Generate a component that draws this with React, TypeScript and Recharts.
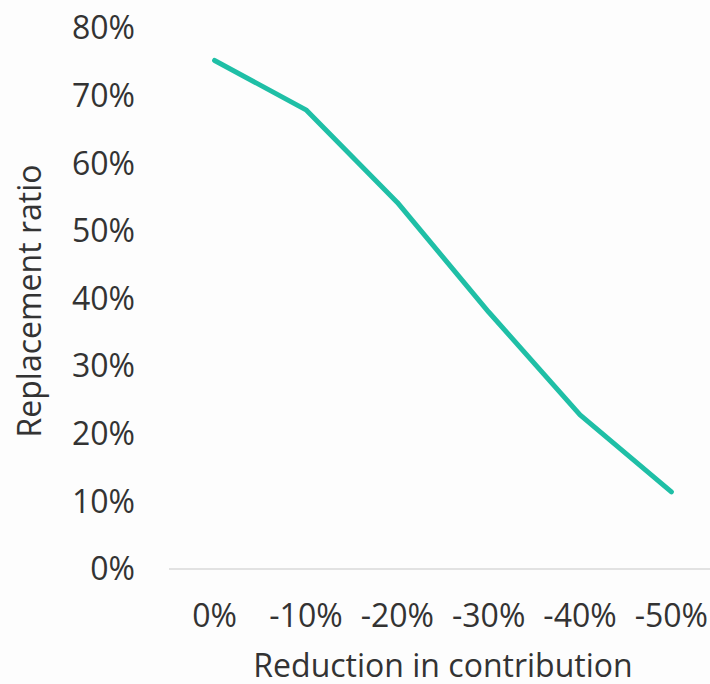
import { LineChart, Line, XAxis, YAxis, Label } from 'recharts';

const categories = ['0%', '-10%', '-20%', '-30%', '-40%', '-50%'];
const replacementRatio = [75.2, 67.9, 54.2, 38.0, 22.8, 11.4];
const yTicks = [0, 10, 20, 30, 40, 50, 60, 70, 80];

const data = categories.map((c, i) => ({ reduction: c, ratio: replacementRatio[i] }));

const font = { fontFamily: '"Open Sans", sans-serif', fontSize: 32, fill: '#333333' };

export default function App() {
  return (
    <div style={{ position: 'absolute', left: 0, top: 0, width: 710, height: 684, overflow: 'hidden', background: '#fdfdfd' }}>
      <LineChart width={720} height={684} data={data} margin={{ top: 28, right: 3, bottom: 0, left: 0 }}>
        <XAxis
          dataKey="reduction"
          padding={{ left: 45.6, right: 45.6 }}
          tickLine={false}
          tickSize={0}
          tickMargin={35}
          axisLine={{ stroke: '#d9d9d9', strokeWidth: 1.5 }}
          tick={font}
          height={115}
          interval={0}
        >
          <Label
            content={({ viewBox }: any) => (
              <text x={viewBox.x + viewBox.width / 2} y={677} textAnchor="middle" style={font} fill="#333333">
                Reduction in contribution
              </text>
            )}
          />
        </XAxis>
        <YAxis
          domain={[0, 80]}
          ticks={yTicks}
          tickFormatter={(v) => `${v}%`}
          axisLine={false}
          tickLine={false}
          tickSize={0}
          tickMargin={34}
          tick={font}
          width={169}
        >
          <Label
            content={() => (
              <text x={41} y={301} textAnchor="middle" transform="rotate(-90 41 301)" style={font} fill="#333333">
                Replacement ratio
              </text>
            )}
          />
        </YAxis>
        <Line
          type="linear"
          dataKey="ratio"
          stroke="#1fbfa6"
          strokeWidth={5}
          strokeLinecap="round"
          strokeLinejoin="round"
          dot={false}
          activeDot={false}
          isAnimationActive={false}
        />
      </LineChart>
    </div>
  );
}
